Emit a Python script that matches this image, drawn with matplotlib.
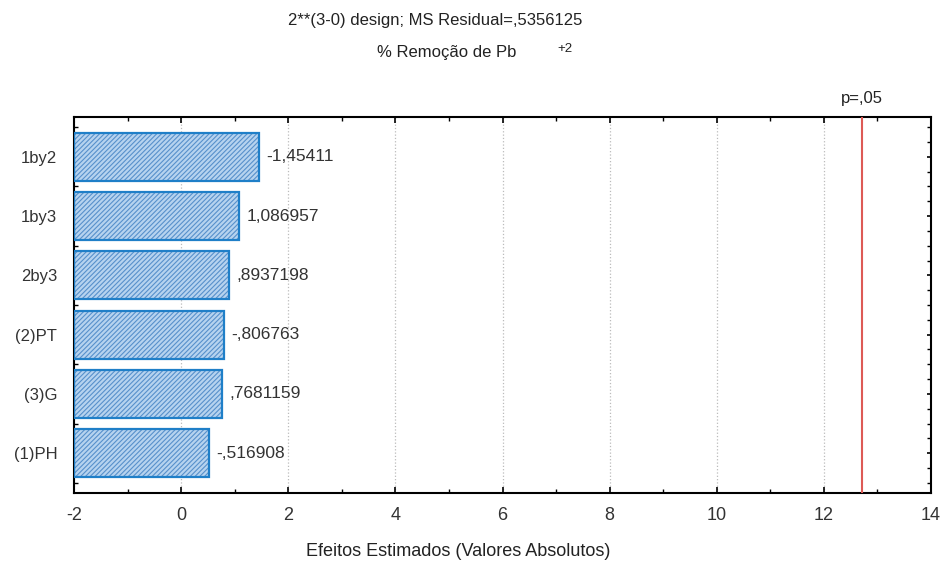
import matplotlib
matplotlib.use("Agg")
import matplotlib.pyplot as plt
from matplotlib.ticker import MultipleLocator

plt.rcParams['font.family'] = ['Liberation Sans', 'DejaVu Sans']
plt.rcParams['axes.unicode_minus'] = False
plt.rcParams['hatch.linewidth'] = 0.8

# Effects (signed) in display order from top to bottom
effects = ["1by2", "1by3", "2by3", "(2)PT", "(3)G", "(1)PH"]
values = [-1.454110, 1.086957, 0.8937198, -0.8067630, 0.7681159, -0.5169080]
p_crit = 12.706  # t critical value, p = .05
p_label = "p=,05"
x_ticks = [-2, 0, 2, 4, 6, 8, 10, 12, 14]


def fmt(v):
    s = f"{v:.7g}"
    s = s.replace("-0.", "-.")
    if s.startswith("0."):
        s = s[1:]
    return s.replace(".", ",")


fig = plt.figure(figsize=(9.41, 5.62), dpi=100)
ax = fig.add_axes([74 / 941, 1 - 493 / 562, (931 - 74) / 941, (493 - 117) / 562])

x0 = x_ticks[0]
ypos = list(range(len(effects)))
widths = [abs(v) - x0 for v in values]

ax.barh(ypos, widths, left=x0, height=0.81, color="#b6d3ef",
        edgecolor="#5790cb", hatch="///////", linewidth=0, zorder=2)
ax.barh(ypos, widths, left=x0, height=0.81, fill=False,
        edgecolor="#1f7fc8", linewidth=1.6, zorder=3)

for y, v in zip(ypos, values):
    ax.annotate(fmt(v), (abs(v), y), xytext=(5, 0), textcoords="offset points",
                va="center", ha="left", fontsize=12.5, color="#333333")

ax.axvline(p_crit, color="#dd5a55", lw=1.5, zorder=4)
ax.text(p_crit, -0.85, p_label, ha="center", va="bottom", fontsize=12, color="#222222")

ax.set_xlim(x_ticks[0], x_ticks[-1])
ax.set_ylim(len(effects) - 0.33, -0.67)
ax.set_xticks(x_ticks)
ax.xaxis.set_minor_locator(MultipleLocator(1))
ax.set_yticks(ypos)
ax.set_yticklabels(effects)
ax.yaxis.set_minor_locator(MultipleLocator(0.25))
ax.grid(axis="x", which="major", color="#bbbbbb", linestyle=":", lw=0.9, zorder=0)

ax.tick_params(which="both", direction="in", top=True, right=True,
               colors="black", labelcolor="#333333")
ax.tick_params(axis="x", which="major", length=4, width=1.2, pad=10, labelsize=13)
ax.tick_params(axis="y", which="major", length=3, width=1.2, pad=12, labelsize=12)
ax.tick_params(which="minor", length=3, width=1.0)
for sp in ax.spines.values():
    sp.set_linewidth(1.5)

fig.text(435 / 941, 1 - 20 / 562, "2**(3-0) design; MS Residual=,5356125",
         ha="center", va="center", fontsize=12, color="#222222")
fig.text(447 / 941, 1 - 53 / 562, "% Remoção de Pb",
         ha="center", va="center", fontsize=12, color="#222222")
fig.text(565 / 941, 1 - 49 / 562, "+2",
         ha="center", va="center", fontsize=9.5, color="#222222")
fig.text(458 / 941, 1 - 551 / 562, "Efeitos Estimados (Valores Absolutos)",
         ha="center", va="center", fontsize=13, color="#222222")

fig.savefig("out.png", dpi=100, facecolor="white")
